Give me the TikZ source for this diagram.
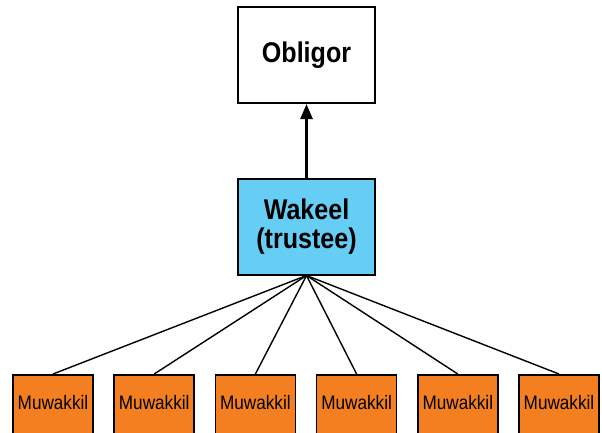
\documentclass[tikz,border=0pt]{standalone}
\usepackage{fontspec}
\setmainfont{Liberation Sans}[FakeStretch=0.88]
\usetikzlibrary{arrows.meta}
\definecolor{wblue}{HTML}{66CDF4}
\definecolor{morange}{HTML}{F47F20}
\begin{document}
\begin{tikzpicture}[x=1pt,y=-1pt,
  topbox/.style={draw=black,line width=2pt,fill=white,minimum width=137pt,minimum height=96pt,inner sep=0pt,align=center,font=\bfseries\fontsize{28.5}{32}\selectfont},
  midbox/.style={topbox,fill=wblue},
  leafbox/.style={draw=black,line width=1.6pt,fill=morange,minimum width=80pt,minimum height=62pt,inner sep=0pt,font=\fontsize{19}{22}\selectfont},
  fan/.style={line width=1.4pt},
  up/.style={line width=2.5pt,-{Triangle[length=15pt,width=12pt]}}]
\useasboundingbox (0,0) rectangle (602,432);
\clip (0,0) rectangle (602,432);
\node[topbox] (obl) at (306.5,55) {Obligor};
\node[midbox] (wak) at (306.5,226.5) {Wakeel\\[-3pt](trustee)};
\foreach \i in {1,...,6}{
  \node[leafbox,anchor=north] (m\i) at ({53+101.2*(\i-1)},374) {};
  \node at ({53+101.2*(\i-1)},403) {\fontsize{19.5}{22}\selectfont Muwakkil};
}
\draw[up] (wak.north) -- (obl.south);
\foreach \i in {1,...,6}{
  \draw[fan] (wak.south) -- (m\i.north);
}
\end{tikzpicture}
\end{document}
